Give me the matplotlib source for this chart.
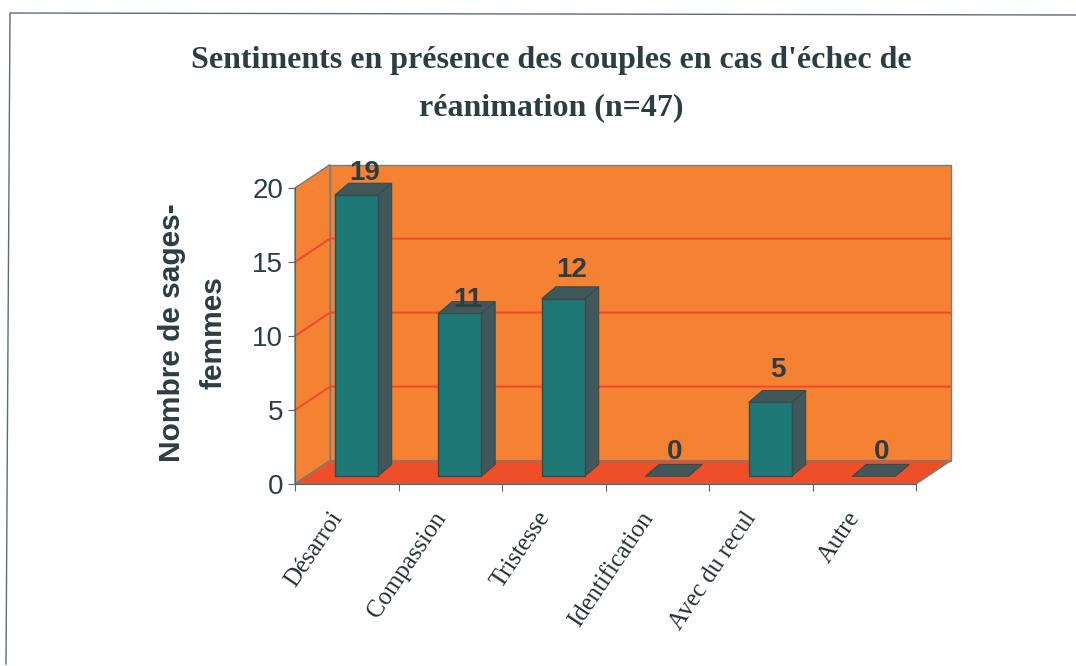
import matplotlib
matplotlib.use('Agg')
import matplotlib.pyplot as plt
from matplotlib.lines import Line2D
from matplotlib.patches import Polygon

categories = ['Désarroi', 'Compassion', 'Tristesse', 'Identification', 'Avec du recul', 'Autre']
values = [19, 11, 12, 0, 5, 0]
y_ticks = [0, 5, 10, 15, 20]

ORANGE = '#F58233'
RED = '#EE4F29'
TEAL = '#1E7876'
DARK = '#41585A'
TEXT = '#2C3E41'

# depth of the 3d box, in data units
DEPTH_X = 0.338
DEPTH_Y = 1.58

# value labels do not sit at a constant height above the bars (pixels above bar value)
label_lift = [23, 14, 29, 25, 33, 25]


def proj(x, y, d=0.0):
    return (x + d * DEPTH_X, y + d * DEPTH_Y)


def poly(ax, pts, color, edge=None, lw=0.8, z=1):
    ax.add_patch(Polygon(pts, closed=True, facecolor=color, edgecolor=edge or color,
                         linewidth=lw, zorder=z, clip_on=False))


def draw_box(ax):
    xmax = len(categories)
    top = y_ticks[-1]
    poly(ax, [proj(0, 0, 1), proj(xmax, 0, 1), proj(xmax, top, 1), proj(0, top, 1)], ORANGE, '#6F8080', 1.0)
    poly(ax, [proj(0, 0), proj(0, 0, 1), proj(0, top, 1), proj(0, top)], ORANGE, '#6F8080', 1.0)
    poly(ax, [proj(0, 0), proj(xmax, 0), proj(xmax, 0, 1), proj(0, 0, 1)], RED, '#6F8080', 1.0, 2)
    for t in y_ticks[1:-1]:
        xs, ys = zip(proj(0, t), proj(0, t, 1), proj(xmax, t, 1))
        ax.plot(xs, ys, color='#EE4B2B', lw=1.5, zorder=2, clip_on=False)


def draw_bars(ax):
    w = 0.415
    d0 = 0.33
    side_x, side_y = 0.135, 0.8
    for i, v in enumerate(values):
        x0 = i + 0.5 - w / 2 - 0.02
        x1 = x0 + w
        fx0, fy0 = proj(x0, 0, d0)
        fx1, fy1 = proj(x1, v, d0)
        poly(ax, [(fx1, fy0), (fx1 + side_x, fy0 + side_y), (fx1 + side_x, fy1 + side_y), (fx1, fy1)],
             DARK, '#3A4A4C', 0.8, 4)
        poly(ax, [(fx0, fy1), (fx1, fy1), (fx1 + side_x, fy1 + side_y), (fx0 + side_x, fy1 + side_y)],
             DARK, '#3A4A4C', 0.8, 5)
        if v > 0:
            poly(ax, [(fx0, fy0), (fx1, fy0), (fx1, fy1), (fx0, fy1)], TEAL, '#3A4A4C', 1.0, 5)
        ax.annotate(str(v), (i + 0.5, v), xytext=(17.5 * 0.72, label_lift[i] * 0.72),
                    textcoords='offset points', ha='center', va='baseline', fontsize=20,
                    family='Liberation Sans', weight='bold', color=TEXT, zorder=6)


fig = plt.figure(figsize=(10.76, 6.66), dpi=100)
W, H = 1076, 666
ax = fig.add_axes([295 / W, 1 - 484 / H, 621 / W, 296 / H])
ax.set_xlim(0, len(categories))
ax.set_ylim(0, y_ticks[-1])
ax.patch.set_visible(False)
for s in ['top', 'right']:
    ax.spines[s].set_visible(False)
ax.spines['left'].set_color('#55666A')
ax.spines['bottom'].set_color('#55666A')

draw_box(ax)
draw_bars(ax)

ax.set_yticks(y_ticks)
ax.set_yticklabels([str(t) for t in y_ticks], fontsize=20, family='Liberation Sans', color=TEXT)
ax.set_xticks(range(len(categories) + 1))
ax.set_xticklabels([])
ax.tick_params(axis='y', length=5, color='#55666A', pad=3.5)
ax.tick_params(axis='x', length=5, color='#55666A')

for i, c in enumerate(categories):
    ax.annotate(c, (i + 0.5, 0), xytext=(-13, -17), textcoords='offset points', rotation=56,
                rotation_mode='anchor', ha='right', va='top', fontsize=17.8,
                family='Liberation Serif', color='#22302F')

fig.text(193 / W, 1 - 333 / H, 'Nombre de sages-\nfemmes', rotation=90, ha='center', va='center',
         fontsize=21.5, family='Liberation Sans', weight='bold', color=TEXT, linespacing=1.6)
fig.text(551 / W, 1 - 84.5 / H, "Sentiments en présence des couples en cas d'échec de\nréanimation (n=47)",
         ha='center', va='center', fontsize=23, family='Liberation Serif', weight='bold',
         color=TEXT, linespacing=1.82)

# page frame: only the top and left edges show in the scan, left one is skewed
frame_x = [1076, 10, 6]
frame_y = [15, 13, 664]
fig.add_artist(Line2D([x / W for x in frame_x], [1 - y / H for y in frame_y],
                      color='#5A6E72', lw=1.0))

fig.savefig('out.png', dpi=100, facecolor='white')
